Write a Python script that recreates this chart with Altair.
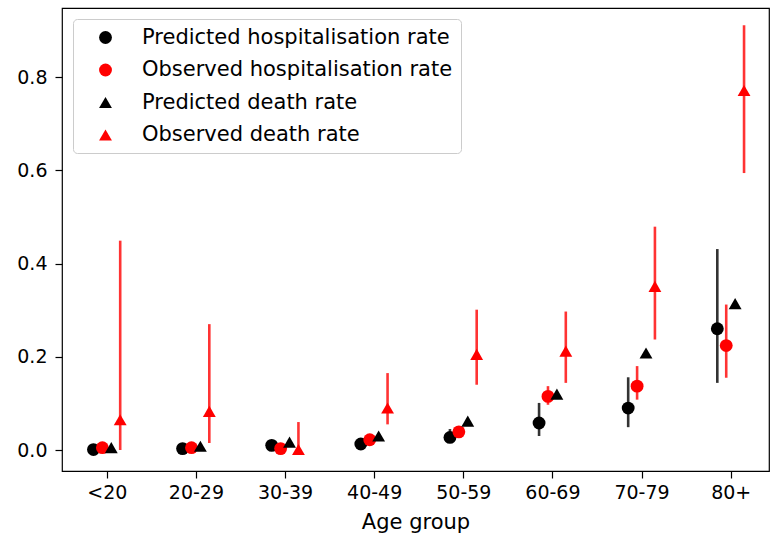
import json
import altair as alt
import pandas as pd

ages = ["<20", "20-29", "30-39", "40-49", "50-59", "60-69", "70-79", "80+"]
series_names = [
    "Predicted hospitalisation rate",
    "Observed hospitalisation rate",
    "Predicted death rate",
    "Observed death rate",
]

pred_hosp = [0.001, 0.003, 0.010, 0.013, 0.027, 0.058, 0.090, 0.260]
pred_hosp_lo = [0.000, 0.002, 0.008, 0.010, 0.018, 0.030, 0.049, 0.144]
pred_hosp_hi = [0.003, 0.005, 0.013, 0.018, 0.045, 0.101, 0.156, 0.431]

obs_hosp = [0.005, 0.005, 0.003, 0.022, 0.039, 0.115, 0.137, 0.224]
obs_hosp_lo = [0.001, 0.002, 0.001, 0.017, 0.031, 0.097, 0.108, 0.155]
obs_hosp_hi = [0.012, 0.010, 0.007, 0.028, 0.048, 0.137, 0.180, 0.312]

pred_death = [0.005, 0.008, 0.017, 0.030, 0.062, 0.120, 0.208, 0.314]

obs_death = [0.065, 0.083, 0.001, 0.090, 0.205, 0.212, 0.351, 0.771]
obs_death_lo = [0.000, 0.015, 0.000, 0.055, 0.140, 0.144, 0.237, 0.594]
obs_death_hi = [0.449, 0.270, 0.060, 0.165, 0.301, 0.297, 0.479, 0.911]

y_ticks = [0.0, 0.2, 0.4, 0.6, 0.8]

series_data = [
    (pred_hosp, pred_hosp_lo, pred_hosp_hi),
    (obs_hosp, obs_hosp_lo, obs_hosp_hi),
    (pred_death, None, None),
    (obs_death, obs_death_lo, obs_death_hi),
]

rows = []
for s, (vals, los, his) in zip(series_names, series_data):
    for i, a in enumerate(ages):
        rows.append({
            "age": a,
            "idx": i,
            "series": s,
            "value": vals[i],
            "lo": los[i] if los is not None else None,
            "hi": his[i] if his is not None else None,
        })
df = pd.DataFrame(rows)

colors = ["black", "red", "black", "red"]
shapes = ["circle", "circle", "triangle-up", "triangle-up"]

base = alt.Chart(df).transform_calculate(
    xpos="datum.idx + (indexof(%s, datum.series) - 1.5) * 0.1" % json.dumps(series_names)
)

x_enc = alt.X(
    "xpos:Q",
    scale=alt.Scale(domain=[-0.503, 7.43], nice=False, zero=False),
    axis=alt.Axis(
        values=list(range(len(ages))),
        labelExpr="%s[datum.value]" % json.dumps(ages),
        title="Age group",
        grid=False,
    ),
)
y_scale = alt.Scale(domain=[-0.045, 0.948], nice=False, zero=False)
y_axis = alt.Axis(values=y_ticks, format=".1f", grid=False)

legend = alt.Legend(
    orient="none",
    legendX=11,
    legendY=11,
    title=None,
    fillColor="white",
    strokeColor="#cccccc",
    cornerRadius=4,
    padding=8,
    symbolOffset=14,
    labelOffset=26,
    rowPadding=10.5,
    labelFontSize=21,
    labelFont="DejaVu Sans",
    labelColor="black",
    labelLimit=500,
    symbolSize=165,
    symbolStrokeWidth=0,
)

color_enc = alt.Color("series:N", scale=alt.Scale(domain=series_names, range=colors), legend=legend)
shape_enc = alt.Shape("series:N", scale=alt.Scale(domain=series_names, range=shapes), legend=legend)

layers = []
for s, c, (vals, los, his) in zip(series_names, colors, series_data):
    sub = base.transform_filter(alt.datum.series == s)
    if los is not None:
        layers.append(
            sub.mark_rule(color=c, opacity=0.8, strokeWidth=2.6).encode(
                x=x_enc,
                y=alt.Y("lo:Q", scale=y_scale, axis=y_axis, title=None),
                y2="hi:Q",
            )
        )
    layers.append(
        sub.mark_point(filled=True, size=165, opacity=1, strokeWidth=0).encode(
            x=x_enc,
            y=alt.Y("value:Q", scale=y_scale, axis=y_axis, title=None),
            color=color_enc,
            shape=shape_enc,
        )
    )

chart = alt.layer(*layers).properties(
    width=707,
    height=463,
    autosize=alt.AutoSizeParams(type="none"),
    padding={"left": 62, "top": 8, "right": 2, "bottom": 67},
).configure_view(
    stroke="black", strokeWidth=1.2
).configure_axis(
    domain=False,
    tickColor="black",
    tickSize=7,
    tickWidth=1.2,
    labelFont="DejaVu Sans",
    labelFontSize=19,
    labelColor="black",
    titleFont="DejaVu Sans",
    titleFontSize=21,
    titleFontWeight="normal",
    titleColor="black",
).configure_axisX(
    labelPadding=5,
    titlePadding=9,
).configure_axisY(
    labelPadding=8,
)

chart.save("out.html", embed_options={"renderer": "svg", "actions": False})
